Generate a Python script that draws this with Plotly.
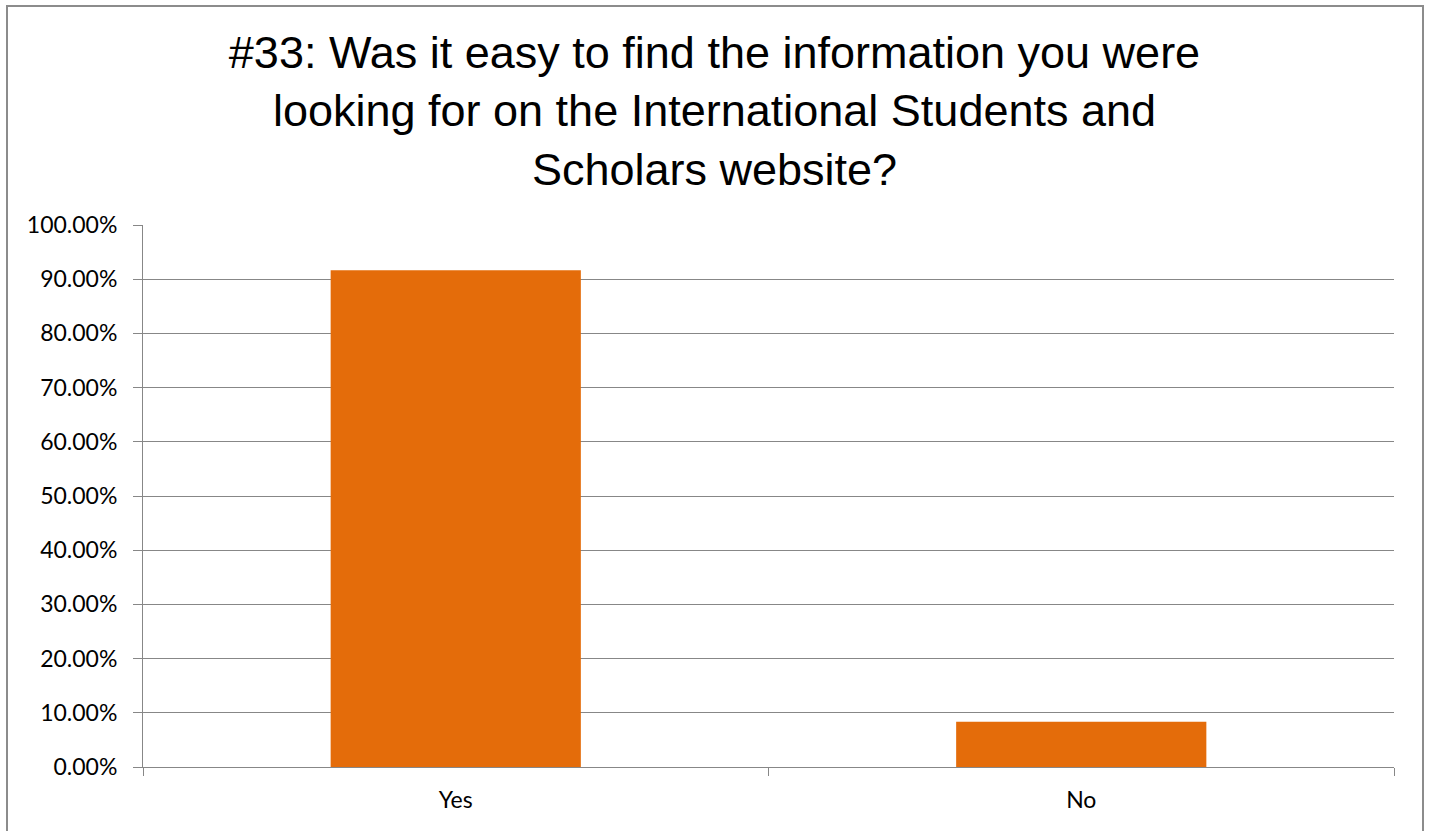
import plotly.graph_objects as go

categories = ["Yes", "No"]
values = [91.67, 8.33]
y_ticks = [0, 10, 20, 30, 40, 50, 60, 70, 80, 90, 100]
y_tick_labels = [f"{v:.2f}%" for v in y_ticks]
title_text = ("#33: Was it easy to find the information you were<br>"
              "looking for on the International Students and<br>"
              "Scholars website?")

W, H = 1429, 831
ml, mr, mt, mb = 143, 35, 225, 64
pw, ph = W - ml - mr, H - mt - mb

fig = go.Figure(go.Bar(
    x=categories, y=values,
    marker=dict(color="#E46C0A", line=dict(width=0)),
    width=0.4,
))

grid = "#878787"
tick_font = dict(family="Lato, Open Sans", size=23, color="black")
fig.update_layout(
    width=W, height=H,
    margin=dict(l=ml, r=mr, t=mt, b=mb, pad=0),
    paper_bgcolor="white", plot_bgcolor="white",
    showlegend=False,
    title=dict(text=title_text, x=0.5, xanchor="center", y=0.9187, yanchor="top",
               font=dict(family="Liberation Sans, Arial", size=45, color="black")),
    xaxis=dict(
        type="category", showgrid=False, tickson="boundaries",
        ticks="outside", ticklen=8, tickcolor=grid, tickwidth=1,
        showline=True, linecolor=grid, linewidth=1,
        tickfont=tick_font,
        ticklabelstandoff=12,
    ),
    yaxis=dict(
        range=[0, 100], tickvals=y_ticks, ticktext=y_tick_labels,
        showgrid=True, gridcolor=grid, gridwidth=1,
        ticks="outside", ticklen=9, tickcolor=grid, tickwidth=1,
        showline=True, linecolor=grid, linewidth=1,
        zeroline=False,
        tickfont=tick_font,
        ticklabelstandoff=11,
    ),
)

# outer chart border
fig.add_shape(type="rect", xref="paper", yref="paper",
              x0=(7 - ml) / pw, x1=(1423 - ml) / pw,
              y0=(H - mb - 840) / ph, y1=(H - mb - 6) / ph,
              line=dict(color="#8c8c8c", width=2), fillcolor="rgba(0,0,0,0)",
              layer="below")

fig.write_html("out.html", config={"displayModeBar": False},
               post_script="document.body.style.margin='0';")
